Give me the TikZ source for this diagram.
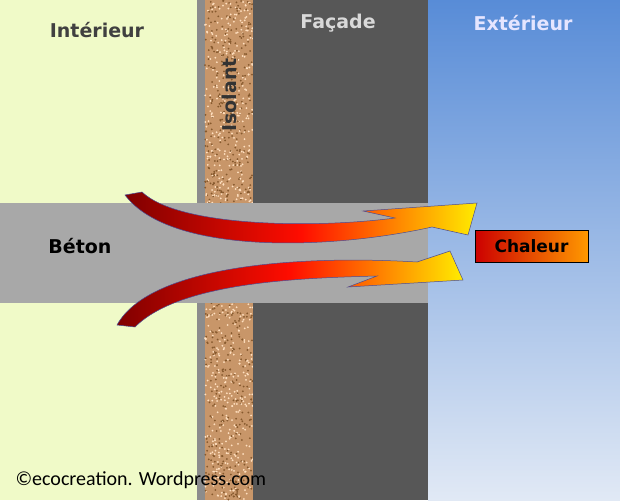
\documentclass[tikz,border=0pt]{standalone}
\usepackage{fontspec}
\setmainfont{DejaVu Sans}
\newfontfamily\carlitofont{Carlito}
\begin{document}
\begin{tikzpicture}[x=1pt,y=-1pt,
  lbl/.style={font=\bfseries\fontsize{19}{21}\selectfont},
  arr/.style={draw=black!60!blue!70, line width=0.5pt, left color=red!50!black, right color=yellow!85!orange, middle color=red!90!orange}]
\definecolor{inter}{RGB}{240,250,200}
\definecolor{cork}{RGB}{200,150,105}
\definecolor{fac}{RGB}{87,87,87}
\definecolor{beton}{RGB}{168,168,168}
\useasboundingbox (0,0) rectangle (620,500);
\fill[inter] (0,0) rectangle (197,500);
\fill[black!45] (197,0) rectangle (205,500);
\fill[cork] (205,0) rectangle (253,500);
\pgfmathsetseed{7}
\foreach \i in {1,...,1400}{
  \pgfmathsetmacro{\xx}{205+48*rnd}\pgfmathsetmacro{\yy}{500*rnd}
  \pgfmathsetmacro{\cc}{rnd>0.5?1:0}
  \ifdim\cc pt>0.5pt \fill[brown!70!black] (\xx,\yy) circle (1);
  \else \fill[orange!25!white] (\xx,\yy) circle (1); \fi}
\fill[fac] (253,0) rectangle (428,500);
\shade[top color={rgb,255:red,88;green,140;blue,215}, bottom color={rgb,255:red,225;green,233;blue,245}] (428,0) rectangle (620,500);
\fill[beton] (0,203) rectangle (428,303);
\node[lbl, text=black!75] (int) at (97,30) {Intérieur};
\node[lbl, text=black!15] (fa) at (338,23) {Façade};
\node[lbl, text=white!90!blue] (ext) at (523,23) {Extérieur};
\node[lbl, text=black!80, rotate=90] (iso) at (229,95) {Isolant};
\node[lbl, text=black] (bet) at (80,246) {Béton};
\node[draw=black, line width=0.6pt, left color=red!80!black, right color=orange!80!yellow, minimum width=113pt, minimum height=32pt, inner sep=0pt, font=\bfseries\fontsize{17}{19}\selectfont] (ch) at (531.5,246) {Chaleur};
\node[anchor=west, font=\carlitofont\fontsize{20}{22}\selectfont] (cp) at (12,480) {©ecocreation. Wordpress.com};
% top arrow
\path[arr] (125,195) .. controls (170,255) and (330,250) .. (432,227)
  -- (468,235) -- (477,203) -- (363,211) -- (395,218)
  .. controls (320,228) and (180,228) .. (142,192) -- cycle;
% bottom arrow
\path[arr] (117,325) .. controls (150,265) and (300,255) .. (417,262)
  -- (450,251) -- (463,280) -- (348,287) -- (377,276)
  .. controls (300,278) and (180,282) .. (135,327) -- cycle;
\end{tikzpicture}
\end{document}
